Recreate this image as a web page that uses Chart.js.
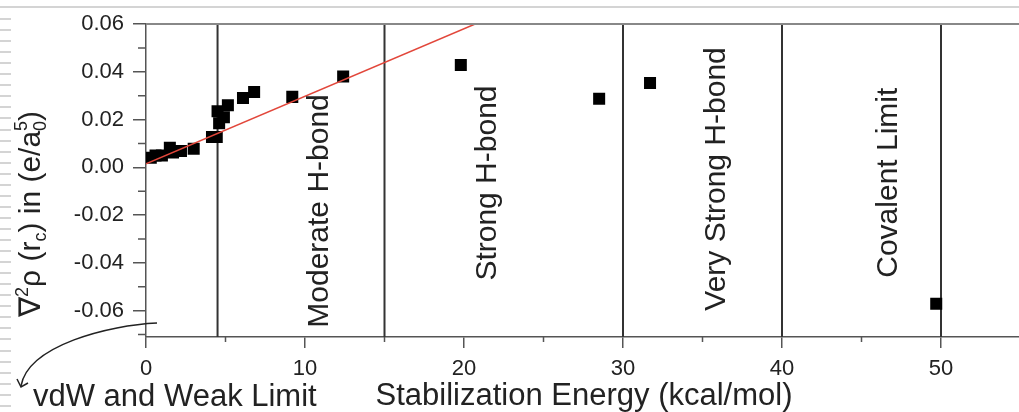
<!DOCTYPE html>
<html>
<head>
<meta charset="UTF-8">
<script src="https://cdn.jsdelivr.net/npm/chart.js"></script>
<style>
  html, body { margin: 0; padding: 0; background: #fff; overflow: hidden; }
  #wrap { width: 1029px; height: 412px; position: relative; }
</style>
</head>
<body>
<div id="wrap"><canvas id="grafico"></canvas></div>
<script>
// datos
const energia = [0.3, 0.6, 1.0, 1.5, 1.7, 2.2, 3.0, 4.15, 4.45, 4.5, 4.6, 4.9, 5.15, 6.1, 6.8, 9.2, 12.4, 19.8, 28.5, 31.7, 49.7];
const laplaciano = [0.004, 0.005, 0.005, 0.0082, 0.0062, 0.0068, 0.0078, 0.0127, 0.0127, 0.0235, 0.0185, 0.0210, 0.0260, 0.0290, 0.0315, 0.0295, 0.0380, 0.0428, 0.0287, 0.0353, -0.0571];
const ajusteX = [0, 20.7];
const ajusteY = [0.0015, 0.06];
const limites = [4.5, 15, 30, 40, 50];
const regiones = ["Moderate H-bond", "Strong H-bond", "Very Strong H-bond", "Covalent Limit"];
const regionX = [10.9, 21.5, 35.9, 46.7];
const regionY = [-0.0671, -0.0474, -0.060, -0.0462];
const ticksX = [0, 10, 20, 30, 40, 50];
const ticksY = [-0.06, -0.04, -0.02, 0.00, 0.02, 0.04, 0.06];
const yMin = -0.071, yMax = 0.06, xMin = 0, xMax = 55;

const fuente = "'Liberation Sans', Arial, sans-serif";
const colorTexto = "#222";
const colorEje = "#555";

const puntos = energia.map((x, i) => ({ x: x, y: laplaciano[i] }));
const ajuste = ajusteX.map((x, i) => ({ x: x, y: ajusteY[i] }));

const datasets = [];
limites.forEach(v => {
    datasets.push({
        type: "line",
        data: [{ x: v, y: yMin }, { x: v, y: yMax }],
        borderColor: "#333",
        borderWidth: 2,
        pointRadius: 0,
        order: 3
    });
});
datasets.push({
    type: "scatter",
    data: puntos,
    pointStyle: "rect",
    pointRadius: 8.5,
    pointBackgroundColor: "#000",
    pointBorderWidth: 0,
    order: 2
});
datasets.push({
    type: "line",
    data: ajuste,
    borderColor: "#e2473b",
    borderWidth: 1.5,
    pointRadius: 0,
    order: 1
});

const extras = {
    id: "extras",
    beforeDraw(chart) {
        const ctx = chart.ctx;
        ctx.save();
        ctx.fillStyle = "#fff";
        ctx.fillRect(0, 0, chart.width, chart.height);
        // marco gris de la imagen
        ctx.fillStyle = "#d4d4d4";
        ctx.fillRect(0, 6, chart.width, 2);
        for (let y = 18; y < chart.height; y += 11.05) {
            ctx.fillRect(0, Math.round(y), 11, 2);
        }
        ctx.restore();
    },
    afterDraw(chart) {
        const ctx = chart.ctx;
        const xs = chart.scales.x, ys = chart.scales.y;
        const area = chart.chartArea;
        ctx.save();
        // borde superior del area
        ctx.strokeStyle = "#888";
        ctx.lineWidth = 2;
        ctx.beginPath();
        ctx.moveTo(area.left, area.top);
        ctx.lineTo(chart.width, area.top);
        ctx.stroke();

        // marcas menores
        ctx.strokeStyle = colorEje;
        ctx.lineWidth = 1.5;
        ctx.beginPath();
        for (let v = -0.07; v <= 0.06; v += 0.02) {
            const py = ys.getPixelForValue(v);
            ctx.moveTo(area.left - 8, py);
            ctx.lineTo(area.left, py);
        }
        for (let v = 5; v <= 55; v += 10) {
            const px = xs.getPixelForValue(v);
            ctx.moveTo(px, area.bottom);
            ctx.lineTo(px, area.bottom + 5);
        }
        ctx.stroke();

        // etiquetas de regiones
        ctx.fillStyle = colorTexto;
        ctx.font = "30px " + fuente;
        ctx.textAlign = "left";
        ctx.textBaseline = "middle";
        regiones.forEach((t, i) => {
            ctx.save();
            ctx.translate(xs.getPixelForValue(regionX[i]), ys.getPixelForValue(regionY[i]));
            ctx.rotate(-Math.PI / 2);
            ctx.fillText(t, 0, 0);
            ctx.restore();
        });

        // titulo eje y con sub/superindices
        const base = 30, chico = 18;
        const partes = [
            { t: "\u2207", s: base, dy: 0 },
            { t: "2", s: chico, dy: -12 },
            { t: "\u03c1 (r", s: base, dy: 0 },
            { t: "c", s: chico, dy: 6 },
            { t: ") in (e/a", s: base, dy: 0 },
            { t: "0", s: chico, dy: 6, stack: true },
            { t: "5", s: chico, dy: -13 },
            { t: ")", s: base, dy: 0 }
        ];
        ctx.save();
        ctx.translate(40, 317);
        ctx.rotate(-Math.PI / 2);
        ctx.textBaseline = "alphabetic";
        let cx = 0;
        partes.forEach(p => {
            ctx.font = p.s + "px " + fuente;
            ctx.fillText(p.t, cx, p.dy);
            if (!p.stack) cx += ctx.measureText(p.t).width;
        });
        ctx.restore();

        // titulo eje x
        ctx.font = "31px " + fuente;
        ctx.textAlign = "center";
        ctx.textBaseline = "alphabetic";
        ctx.fillText("Stabilization Energy (kcal/mol)", 584, 405);

        // flecha y texto vdW
        ctx.strokeStyle = "#222";
        ctx.lineWidth = 1.5;
        ctx.beginPath();
        ctx.moveTo(157, 323);
        ctx.bezierCurveTo(110, 325, 28, 345, 21, 386);
        ctx.stroke();
        ctx.beginPath();
        ctx.moveTo(17, 379);
        ctx.lineTo(21, 387);
        ctx.lineTo(28, 383);
        ctx.stroke();
        ctx.textAlign = "left";
        ctx.fillText("vdW and Weak Limit", 33, 406);
        ctx.restore();
    }
};

new Chart(document.getElementById("grafico"), {
    type: "scatter",
    data: { datasets: datasets },
    options: {
        responsive: true,
        maintainAspectRatio: false,
        animation: false,
        layout: { padding: { top: 24, right: 0, left: 0, bottom: 0 } },
        plugins: { legend: { display: false }, tooltip: { enabled: false } },
        scales: {
            x: {
                type: "linear",
                min: xMin,
                max: xMax,
                afterFit(scale) { scale.height = 75; scale.paddingRight = 0; scale.paddingLeft = 0; },
                afterBuildTicks(scale) { scale.ticks = ticksX.map(v => ({ value: v })); },
                ticks: { font: { size: 22, family: fuente }, color: colorTexto, padding: 8 },
                grid: { drawOnChartArea: false, tickLength: 11, color: colorEje, lineWidth: 1.5 },
                border: { color: colorEje, width: 1.5 }
            },
            y: {
                type: "linear",
                min: yMin,
                max: yMax,
                afterFit(scale) { scale.width = 146; scale.paddingTop = 0; scale.paddingBottom = 0; },
                afterBuildTicks(scale) { scale.ticks = ticksY.map(v => ({ value: v })); },
                ticks: {
                    font: { size: 22, family: fuente },
                    color: colorTexto,
                    padding: 9,
                    callback: v => (Math.abs(v) < 1e-9 ? 0 : v).toFixed(2)
                },
                grid: { drawOnChartArea: false, tickLength: 13, color: colorEje, lineWidth: 1.5 },
                border: { color: colorEje, width: 1.5 }
            }
        }
    },
    plugins: [extras]
});
</script>
</body>
</html>
